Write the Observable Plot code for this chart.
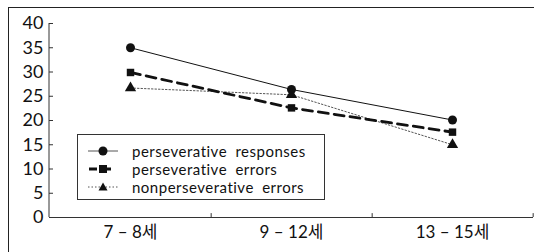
<!DOCTYPE html>
<html><head><meta charset="utf-8">
<script src="https://cdn.jsdelivr.net/npm/d3@7"></script>
<script src="https://cdn.jsdelivr.net/npm/@observablehq/plot@0.6"></script>
<style>
body{margin:0;background:#fff;}
#wrap{position:relative;width:534px;height:252px;overflow:hidden;font-family:Lato,"Noto Sans CJK KR",sans-serif;}
#frame{position:absolute;left:8px;top:7px;width:600px;height:300px;border-left:1.5px solid #222;border-top:1.5px solid #222;}
#chart{position:absolute;left:0;top:0;}
#legend{position:absolute;left:77px;top:134px;width:246px;height:64px;border:1.3px solid #333;background:#fff;font-size:15px;line-height:16px;color:#111;word-spacing:4px;letter-spacing:0.5px;}
.row{position:absolute;left:8px;height:16px;display:flex;align-items:center;white-space:nowrap;}
.row span{display:block;height:16px;line-height:16px;}
.row svg{margin-right:12px;}
</style></head>
<body><div id="wrap"><div id="frame"></div><div id="chart"></div>
<div id="legend"></div></div>
<script>
const categories = ["7 – 8세", "9 – 12세", "13 – 15세"];
const perseverativeResponses = [35, 26.4, 20.1];
const perseverativeErrors = [29.9, 22.6, 17.6];
const nonperseverativeErrors = [26.7, 25.3, 15.0];
const yTicks = [0, 5, 10, 15, 20, 25, 30, 35, 40];
const seriesNames = ["perseverative responses", "perseverative errors", "nonperseverative errors"];

const mk = (vals) => categories.map((c, i) => ({cat: c, v: vals[i]}));
const s1 = mk(perseverativeResponses), s2 = mk(perseverativeErrors), s3 = mk(nonperseverativeErrors);
const step = (534 - 49 - 1) / categories.length;

const plot = Plot.plot({
  width: 534, height: 252,
  marginLeft: 49, marginRight: 1, marginTop: 23, marginBottom: 35,
  style: {fontFamily: 'Lato, "Noto Sans CJK KR", sans-serif', background: "transparent", color: "#111"},
  x: {type: "point", domain: categories, padding: 0.5, label: null},
  y: {domain: [0, 40], label: null},
  marks: [
    Plot.axisY({ticks: yTicks, tickSize: -4, tickPadding: 10, fontSize: 18, label: null, stroke: "#333"}),
    Plot.axisX({tickSize: 0, tickPadding: 8, fontSize: 17, label: null}),
    Plot.ruleX(categories, {x: d => d, y1: 0, y2: 0.8, dx: step/2, stroke: "#333"}),
    Plot.ruleY([0], {stroke: "#333", strokeWidth: 1}),
    Plot.line(s3, {x: "cat", y: "v", stroke: "#555", strokeWidth: 1, strokeDasharray: "1.5,2"}),
    Plot.line(s2, {x: "cat", y: "v", stroke: "#111", strokeWidth: 2.8, strokeDasharray: "10,6"}),
    Plot.line(s1, {x: "cat", y: "v", stroke: "#111", strokeWidth: 1}),
    Plot.dot(s1, {x: "cat", y: "v", symbol: "circle", r: 4.5, fill: "#111"}),
    Plot.dot(s2, {x: "cat", y: "v", symbol: "square", r: 4.2, fill: "#111"}),
    Plot.dot(s3, {x: "cat", y: "v", symbol: "triangle", r: 4.2, fill: "#111"})
  ]
});
document.getElementById("chart").append(plot);

// y-axis line
const svg = d3.select(plot);
const ys = plot.scale("y");
svg.append("line").attr("x1", 49).attr("x2", 49).attr("y1", ys.apply(0)).attr("y2", ys.apply(40)).attr("stroke", "#333");

const legend = document.getElementById("legend");
const swatches = [
  '<svg width="34" height="14"><line x1="2" x2="32" y1="7" y2="7" stroke="#555" stroke-width="1"/><circle cx="17" cy="7" r="4.5" fill="#111"/></svg>',
  '<svg width="34" height="14"><line x1="3" x2="31" y1="7" y2="7" stroke="#111" stroke-width="2.8" stroke-dasharray="8,6"/><rect x="13" y="3" width="8" height="8" fill="#111"/></svg>',
  '<svg width="34" height="14"><line x1="2" x2="32" y1="7" y2="7" stroke="#555" stroke-width="1" stroke-dasharray="1.5,2"/><path d="M17,2.5 L21.5,10.5 L12.5,10.5 Z" fill="#111"/></svg>'
];
const tops = [7.5, 25.5, 43.5];
seriesNames.forEach((n, i) => {
  const r = document.createElement("div");
  r.className = "row"; r.style.top = tops[i] + "px";
  r.innerHTML = swatches[i] + "<span>" + n + "</span>";
  legend.append(r);
});
</script></body></html>
